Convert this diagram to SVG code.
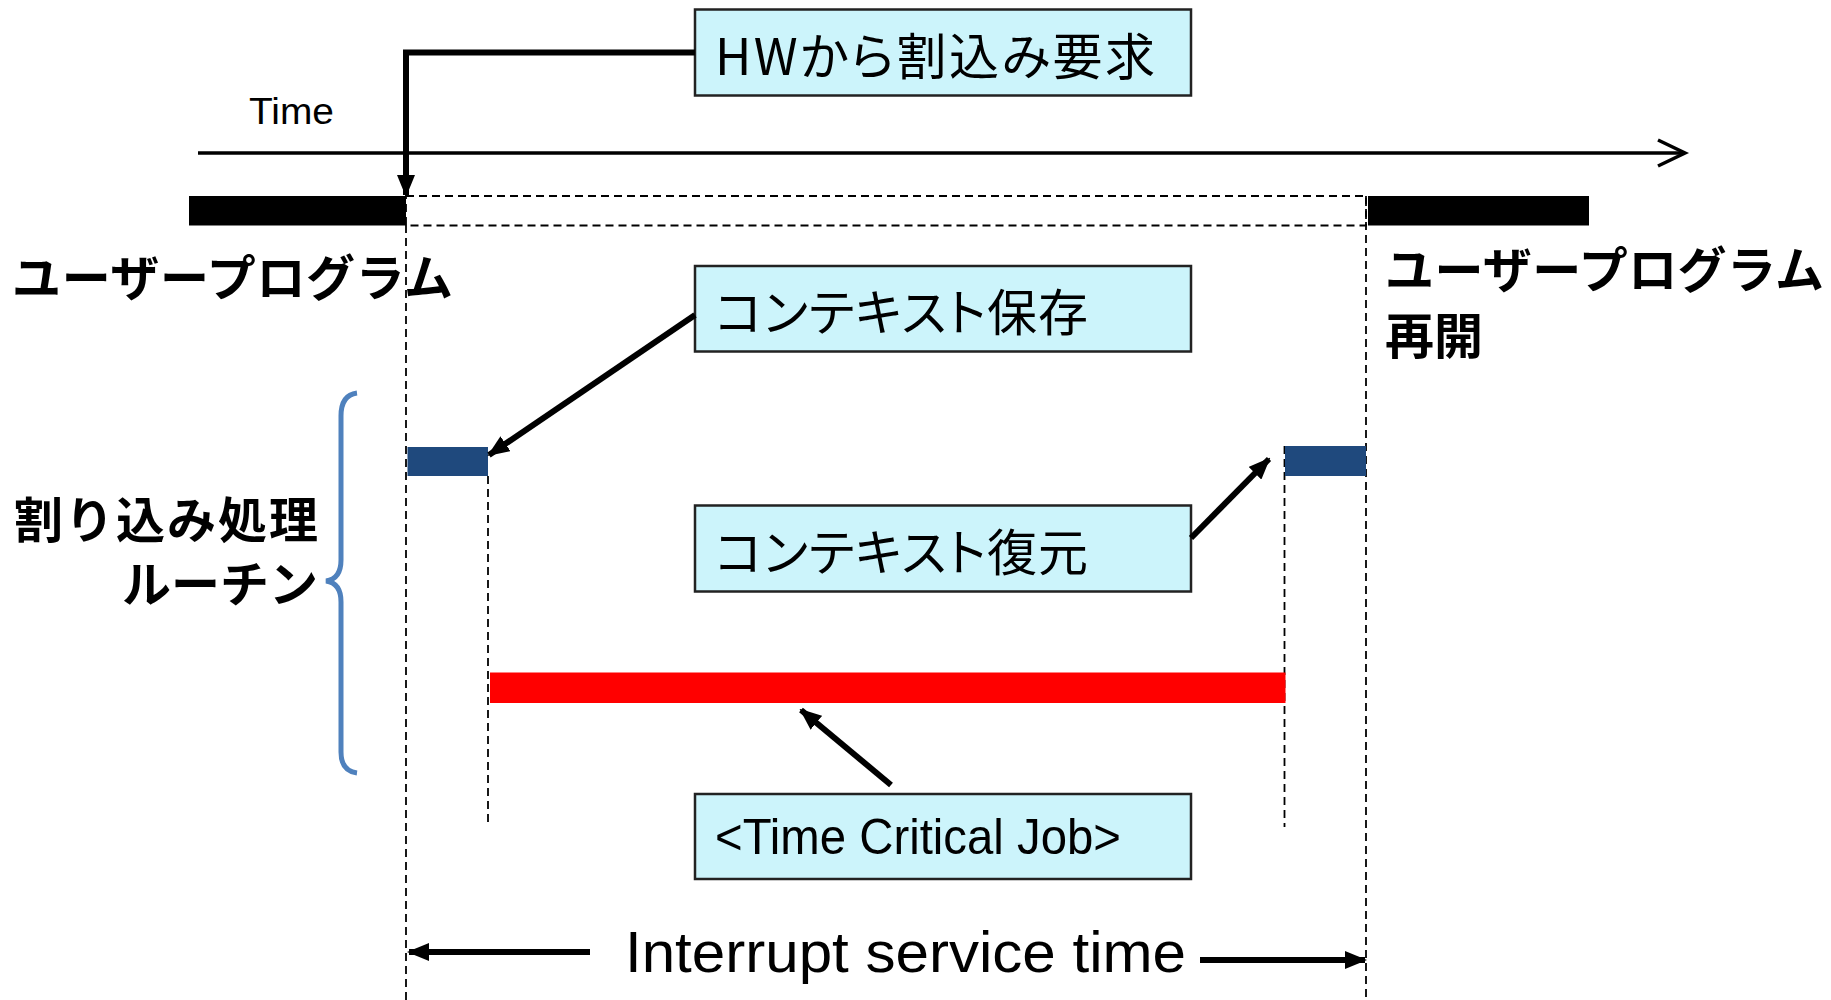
<svg xmlns="http://www.w3.org/2000/svg" width="1831" height="1000" viewBox="0 0 1831 1000">
<style>
.box{fill:#CCF4FB;stroke:#222;stroke-width:2.5}
.jp{font-family:"Noto Sans CJK JP","Noto Sans",sans-serif;fill:#000}
.big{font-size:49px;font-weight:bold}
.btxt{font-size:50px;font-feature-settings:"palt" 1}
.en{font-family:"Liberation Sans",Arial,sans-serif;fill:#000}
.dash{fill:none;stroke:#000;stroke-width:1.8;stroke-dasharray:8 5}
.conn{fill:none;stroke:#000;stroke-width:6}
</style>
<defs>
<marker id="ah" viewBox="0 0 22 18" refX="20" refY="9" markerWidth="22" markerHeight="18" markerUnits="userSpaceOnUse" orient="auto">
<path d="M0,0 L22,9 L0,18 Z" fill="#000"/>
</marker>
</defs>
<rect width="1831" height="1000" fill="#fff"/>

<g id="time-axis">
<text class="en" x="249" y="124" font-size="36" textLength="85" lengthAdjust="spacingAndGlyphs">Time</text>
<line x1="198" y1="153" x2="1684" y2="153" stroke="#000" stroke-width="3.5"/>
<polyline points="1658,140 1685,153 1658,166" fill="none" stroke="#000" stroke-width="3.5"/>
</g>

<g id="user-program-bars">
<rect x="189" y="196" width="217" height="29.5" fill="#000"/>
<rect x="1368" y="196" width="221" height="29.5" fill="#000"/>
</g>

<g id="guides">
<rect class="dash" x="406" y="196" width="960" height="29.5"/>
<line class="dash" x1="406" y1="225" x2="406" y2="1000"/>
<line class="dash" x1="1366" y1="196" x2="1366" y2="1000"/>
<line class="dash" x1="488" y1="476" x2="488" y2="827"/>
<line class="dash" x1="1284.5" y1="446" x2="1284.5" y2="827"/>
</g>

<g id="label-user-program">
<text class="jp big" x="12" y="274" dominant-baseline="central" textLength="441" lengthAdjust="spacing">ユーザープログラム</text>
</g>

<g id="label-user-program-resume">
<text class="jp big" x="1385" y="266" dominant-baseline="central" textLength="439" lengthAdjust="spacing">ユーザープログラム</text>
<text class="jp big" x="1385" y="332" dominant-baseline="central">再開</text>
</g>

<g id="label-isr">
<text class="jp big" x="14" y="516" dominant-baseline="central" textLength="304" lengthAdjust="spacing">割り込み処理</text>
<text class="jp big" x="318" y="580" dominant-baseline="central" text-anchor="end">ルーチン</text>
<path d="M357,393 Q341,395 341,416 L341,560 Q341,579 326,581 Q341,583 341,602 L341,752 Q341,771 357,773" fill="none" stroke="#4F81BD" stroke-width="5"/>
</g>

<g id="hw-request">
<rect class="box" x="695" y="9.5" width="496" height="86"/>
<text class="jp btxt" x="715" y="52.5" dominant-baseline="central" textLength="440" lengthAdjust="spacing">HWから割込み要求</text>
</g>

<g id="context-save">
<rect class="box" x="695" y="266" width="496" height="85.5"/>
<text class="jp btxt" x="715" y="309" dominant-baseline="central" textLength="373" lengthAdjust="spacing">コンテキスト保存</text>
</g>

<g id="context-restore">
<rect class="box" x="695" y="505.5" width="496" height="86"/>
<text class="jp btxt" x="715" y="549" dominant-baseline="central" textLength="373" lengthAdjust="spacing">コンテキスト復元</text>
</g>

<g id="time-critical-job">
<rect class="box" x="695" y="794" width="496" height="85"/>
<text class="en" x="715" y="854" font-size="50" textLength="406" lengthAdjust="spacingAndGlyphs">&lt;Time Critical Job&gt;</text>
</g>

<g id="save-block">
<rect x="407.5" y="447" width="80.5" height="29" fill="#1F497D"/>
</g>
<g id="restore-block">
<rect x="1285" y="446" width="81" height="30" fill="#1F497D"/>
</g>
<g id="job-block">
<rect x="490" y="672.5" width="795.5" height="30.5" fill="#FF0000"/>
</g>

<g id="interrupt-service-time">
<text class="en" x="625" y="972" font-size="58" textLength="561" lengthAdjust="spacingAndGlyphs">Interrupt service time</text>
</g>

<g id="connectors">
<polyline class="conn" points="695,52.5 406,52.5 406,195" marker-end="url(#ah)"/>
<line class="conn" x1="695" y1="315" x2="489" y2="455" marker-end="url(#ah)"/>
<line class="conn" x1="1191" y1="538" x2="1269" y2="459" marker-end="url(#ah)"/>
<line class="conn" x1="891" y1="785" x2="801" y2="710" marker-end="url(#ah)"/>
<line class="conn" stroke-width="7" x1="590" y1="952" x2="409" y2="952" marker-end="url(#ah)"/>
<line class="conn" stroke-width="7" x1="1200" y1="960" x2="1365" y2="960" marker-end="url(#ah)"/>
</g>
</svg>
